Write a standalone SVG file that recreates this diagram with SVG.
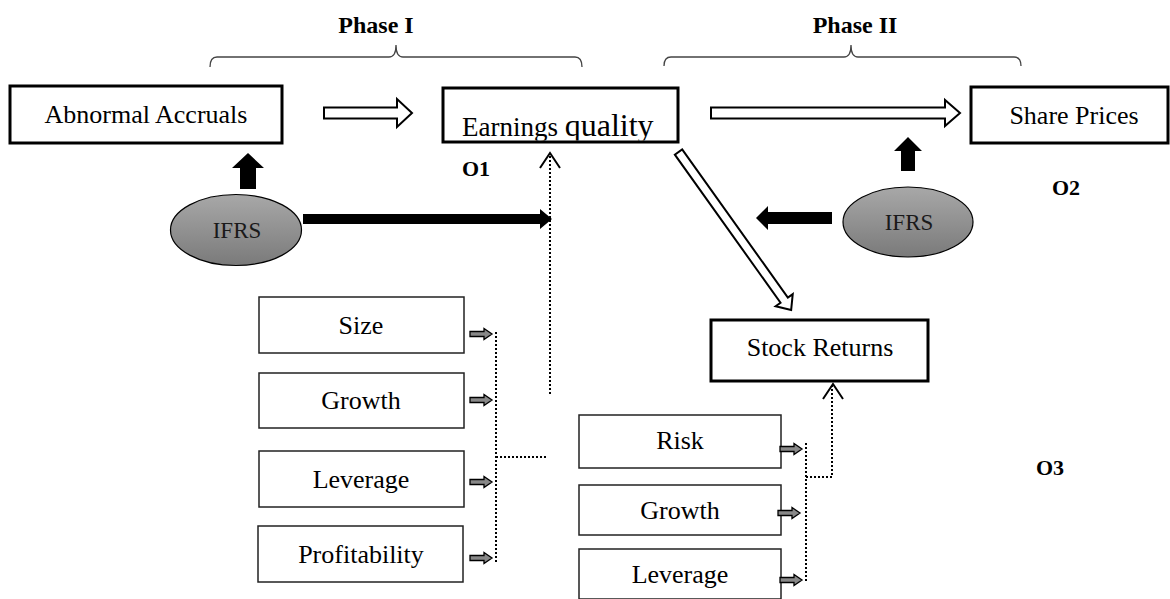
<svg xmlns="http://www.w3.org/2000/svg" xmlns:xlink="http://www.w3.org/1999/xlink" width="1170" height="599" viewBox="0 0 1170 599">
<style>
.box{fill:#fff;stroke:#000;stroke-width:3}
.sbox{fill:#fff;stroke:#222;stroke-width:1.5}
.t{font-family:"Liberation Serif","Times New Roman",serif;font-size:26px;fill:#000;text-anchor:middle}
.b{font-weight:bold;font-size:24px}
.o{font-weight:bold;font-size:22px}
.ifrs{font-size:23px;fill:#1a1a1a}
.dot{fill:none;stroke:#000;stroke-width:2;stroke-dasharray:2 2}
.hollow{fill:#fff;stroke:#000;stroke-width:2;stroke-linejoin:miter}
.solid{fill:#000}
.chev{fill:none;stroke:#000;stroke-width:2}
.brace{fill:none;stroke:#444;stroke-width:1.3}
.ell{fill:url(#g);stroke:#000;stroke-width:1.2}
</style>
<defs>
<linearGradient id="g" x1="0" y1="0" x2="0" y2="1">
<stop offset="0" stop-color="#a8a8a8"/>
<stop offset="1" stop-color="#7a7a7a"/>
</linearGradient>
<path id="sa" d="M0,-2.5 H14 V-5.5 L22,0 L14,5.5 V2.5 H0 Z" fill="#888" stroke="#000" stroke-width="1.3"/>
<clipPath id="eqclip"><rect x="444.5" y="89.5" width="232" height="51"/></clipPath>
</defs>

<g id="phases">
<text class="t b" x="376" y="33">Phase I</text>
<path class="brace" d="M210,67 Q210,57 217,57 L389,57 Q396,57 396,45 Q396,57 403,57 L575,57 Q582,57 582,67"/>
<text class="t b" x="855" y="33">Phase II</text>
<path class="brace" d="M664,66 Q664,57 671,57 L844,57 Q851,57 851,45 Q851,57 858,57 L1014,57 Q1021,57 1021,66"/>
</g>

<g id="abnormal-accruals">
<rect class="box" x="10" y="86" width="272" height="57"/>
<text class="t" x="146" y="123">Abnormal Accruals</text>
</g>

<g id="earnings-quality">
<rect class="box" x="443" y="88" width="235" height="54"/>
<text class="t" x="462" y="136" style="text-anchor:start" clip-path="url(#eqclip)"><tspan font-size="27">Earnings </tspan><tspan font-size="32">quality</tspan></text>
</g>

<g id="share-prices">
<rect class="box" x="971" y="87" width="197" height="56"/>
<text class="t" x="1074" y="124">Share Prices</text>
</g>

<g id="ifrs-left">
<ellipse class="ell" cx="236" cy="230" rx="65.5" ry="35.5"/>
<text class="t ifrs" x="237" y="238">IFRS</text>
</g>

<g id="ifrs-right">
<ellipse class="ell" cx="908" cy="222" rx="65" ry="35"/>
<text class="t ifrs" x="909" y="230">IFRS</text>
</g>

<g id="stock-returns">
<rect class="box" x="711" y="320" width="217" height="61"/>
<text class="t" x="820" y="356">Stock Returns</text>
</g>

<g id="size"><rect class="sbox" x="259" y="297" width="205" height="56"/><text class="t" x="361" y="334">Size</text></g>
<g id="growth-1"><rect class="sbox" x="259" y="373" width="205" height="55"/><text class="t" x="361" y="409">Growth</text></g>
<g id="leverage-1"><rect class="sbox" x="259" y="451" width="205" height="56"/><text class="t" x="361" y="488">Leverage</text></g>
<g id="profitability"><rect class="sbox" x="258" y="526" width="205" height="56"/><text class="t" x="361" y="563">Profitability</text></g>

<g id="risk"><rect class="sbox" x="579" y="415" width="202" height="53"/><text class="t" x="680" y="449">Risk</text></g>
<g id="growth-2"><rect class="sbox" x="579" y="485" width="202" height="50"/><text class="t" x="680" y="519">Growth</text></g>
<g id="leverage-2"><rect class="sbox" x="579" y="549" width="202" height="50"/><text class="t" x="680" y="583">Leverage</text></g>

<g id="labels">
<text class="t o" x="476" y="176">O1</text>
<text class="t o" x="1066" y="195">O2</text>
<text class="t o" x="1050" y="475">O3</text>
</g>

<g id="connectors">
<path class="hollow" d="M324,107.5 H397 V99 L412,113 L397,127 V118.5 H324 Z"/>
<path class="hollow" d="M711,107.5 H945 V100 L960,113 L945,126 V118.5 H711 Z"/>
<path class="hollow" transform="translate(678.5,152) rotate(54.5)" d="M0,-4.5 H182 V-10.5 L194,0 L182,10.5 V4.5 H0 Z"/>
<path class="solid" d="M240,189 V168 H232 L248,153 L264,168 H256 V189 Z"/>
<path class="solid" d="M901,171 V151 H894 L908,137 L922,151 H915 V171 Z"/>
<path class="solid" d="M303,214 H540 V209 L552,219 L540,229 V224 H303 Z"/>
<path class="solid" d="M832,212 H768 V206 L756,218 L768,230 V224 H832 Z"/>
<path class="dot" d="M550,156 V395"/>
<polyline class="chev" points="540,168 550,153 560,168"/>
<path class="dot" d="M496,332 V562 M496,457 H548"/>
<path class="dot" d="M806,443 V582 M806,477 H832 V386"/>
<polyline class="chev" points="823,399 833,384 843,399"/>
<use xlink:href="#sa" x="470" y="334"/>
<use xlink:href="#sa" x="470" y="400"/>
<use xlink:href="#sa" x="470" y="482"/>
<use xlink:href="#sa" x="470" y="558"/>
<use xlink:href="#sa" x="780" y="449"/>
<use xlink:href="#sa" x="778" y="513"/>
<use xlink:href="#sa" x="780" y="580"/>
</g>
</svg>
